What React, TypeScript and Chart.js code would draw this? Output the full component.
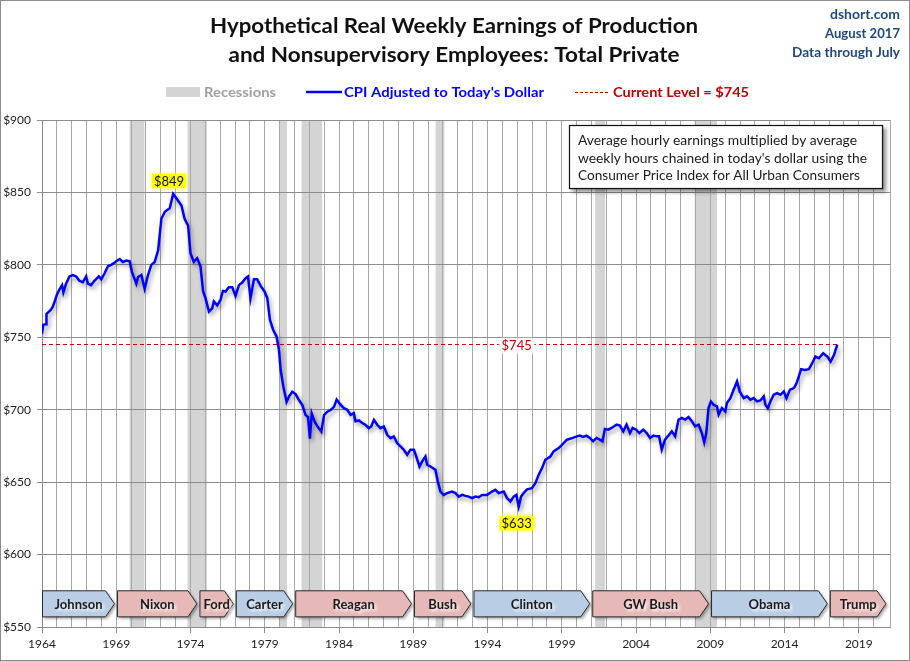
import React, { useEffect, useRef } from 'react';
import { Chart, registerables } from 'chart.js';
Chart.register(...registerables);

const years = [
  1964.00, 1964.09, 1964.27, 1964.30, 1964.50, 1964.60, 1964.72, 1964.83, 1964.99, 1965.17,
  1965.35, 1965.44, 1965.62, 1965.85, 1966.07, 1966.30, 1966.52, 1966.75, 1966.97, 1967.09,
  1967.30, 1967.53, 1967.83, 1967.99, 1968.21, 1968.44, 1968.66, 1968.82, 1969.00, 1969.23,
  1969.45, 1969.68, 1969.90, 1970.06, 1970.35, 1970.47, 1970.69, 1970.91, 1971.14, 1971.36,
  1971.59, 1971.82, 1972.04, 1972.27, 1972.60, 1972.83, 1973.05, 1973.39, 1973.60, 1973.84,
  1974.00, 1974.22, 1974.45, 1974.67, 1974.85, 1975.01, 1975.24, 1975.46, 1975.57, 1975.80,
  1976.02, 1976.18, 1976.36, 1976.58, 1976.81, 1977.03, 1977.26, 1977.48, 1977.71, 1977.87,
  1978.04, 1978.27, 1978.49, 1978.72, 1978.99, 1979.17, 1979.35, 1979.57, 1979.80, 1979.96,
  1980.07, 1980.25, 1980.47, 1980.63, 1980.85, 1981.08, 1981.30, 1981.53, 1981.75, 1981.91,
  1982.04, 1982.16, 1982.36, 1982.58, 1982.81, 1982.99, 1983.21, 1983.44, 1983.66, 1983.84,
  1984.10, 1984.33, 1984.55, 1984.78, 1985.00, 1985.11, 1985.34, 1985.56, 1985.78, 1986.00,
  1986.17, 1986.35, 1986.57, 1986.79, 1987.02, 1987.24, 1987.47, 1987.69, 1987.91, 1988.14,
  1988.36, 1988.59, 1988.81, 1989.04, 1989.20, 1989.42, 1989.60, 1989.82, 1989.93, 1990.16,
  1990.49, 1990.65, 1990.83, 1991.05, 1991.28, 1991.61, 1991.84, 1992.06, 1992.29, 1992.51,
  1992.74, 1992.96, 1993.18, 1993.41, 1993.63, 1993.97, 1994.30, 1994.53, 1994.75, 1995.09,
  1995.31, 1995.54, 1995.76, 1995.94, 1996.10, 1996.26, 1996.43, 1996.66, 1996.99, 1997.22,
  1997.44, 1997.67, 1997.89, 1998.23, 1998.45, 1998.79, 1999.01, 1999.35, 1999.69, 2000.02,
  2000.21, 2000.44, 2000.66, 2000.89, 2001.11, 2001.34, 2001.56, 2001.74, 2001.90, 2002.13,
  2002.35, 2002.69, 2002.91, 2003.14, 2003.36, 2003.59, 2003.77, 2004.00, 2004.22, 2004.49,
  2004.72, 2004.94, 2005.17, 2005.39, 2005.55, 2005.73, 2005.95, 2006.18, 2006.41, 2006.63,
  2006.86, 2007.08, 2007.31, 2007.53, 2007.76, 2007.98, 2008.21, 2008.43, 2008.59, 2008.73,
  2008.88, 2009.04, 2009.22, 2009.45, 2009.56, 2009.78, 2010.01, 2010.12, 2010.35, 2010.57,
  2010.80, 2010.98, 2011.25, 2011.47, 2011.70, 2011.92, 2012.15, 2012.37, 2012.60, 2012.71,
  2012.87, 2013.05, 2013.27, 2013.50, 2013.72, 2013.95, 2014.13, 2014.36, 2014.63, 2014.81,
  2014.96, 2015.12, 2015.35, 2015.64, 2015.86, 2016.08, 2016.31, 2016.60, 2016.88, 2017.10,
  2017.33, 2017.55,
];

const earnings = [
  752.4, 758.6, 759, 766, 768, 769, 771, 774, 779, 783,
  786, 781, 787, 792, 793, 792, 789, 788, 792, 787,
  786, 789, 792, 790, 794, 799, 800, 801, 802.5, 804,
  802, 803, 802.5, 795, 787, 791.6, 793, 783.5, 793, 800,
  802, 810, 832, 836.6, 839, 849, 846, 841, 832, 827,
  808, 802, 804.6, 799, 781.6, 777, 767.7, 770, 774.7, 772,
  775.8, 782, 781.6, 784.6, 784.6, 778.6, 786, 787.8, 790.8, 792,
  777, 790, 790, 785.5, 781.6, 777, 762, 755, 750.5, 741,
  727.4, 716, 705.5, 709, 712.4, 710.8, 706.7, 703.2, 696.3, 695,
  680, 697.5, 691.7, 688, 684.8, 696.3, 698.6, 699.8, 702, 707,
  703.5, 701, 700, 696.5, 697.7, 692, 692.6, 690.8, 689.6, 687.3,
  688.5, 693, 689.6, 687.3, 688.5, 682.7, 680.4, 681.6, 677, 674.7,
  672.4, 668.9, 672.4, 672.4, 667.7, 660.8, 664.3, 667.7, 662, 660.8,
  658.5, 650.5, 643.5, 641.2, 642.4, 643.5, 642.4, 640, 641.2, 640.5,
  640, 639, 640, 639.6, 641.2, 641.2, 643.5, 644.7, 642.4, 643.5,
  639, 636.6, 640, 641.2, 633.2, 640, 642.4, 645, 645.8, 649.3,
  655, 659.7, 665.4, 667.7, 671.2, 673.5, 675.8, 679.3, 680.4, 681.6,
  682.1, 681.2, 682.1, 680.5, 678.2, 680.5, 679.3, 678.2, 686.7, 686.2,
  687.4, 689.7, 689, 685.1, 689.7, 683.9, 687.4, 686.2, 683.9, 686.2,
  683.9, 680.5, 682.1, 681.6, 681.6, 672.5, 679.3, 682.1, 685.1, 681.6,
  693.1, 694.3, 693.1, 694.9, 692, 688.5, 689.7, 683.9, 677.5, 683.9,
  701.1, 705.7, 703.4, 702.3, 696.6, 701.1, 698.8, 704.6, 708, 713.8,
  719.5, 712.6, 708, 709.2, 706.9, 708, 705.7, 706.4, 709.2, 703.4,
  701.1, 705.7, 710.3, 711.5, 710.3, 712.6, 708, 713.8, 714.9, 718.3,
  723, 728, 727.5, 728, 732.1, 736.7, 735.5, 739, 736.7, 733.3,
  737.8, 745,
];

const recessionStarts = [1969.9, 1973.8, 1980.0, 1981.48, 1990.5, 2001.25, 2007.95];
const recessionEnds = [1970.9, 1975.1, 1980.5, 1982.87, 1991.1, 2001.92, 2009.45];

const presidents = ['Johnson', 'Nixon', 'Ford', 'Carter', 'Reagan', 'Bush', 'Clinton', 'GW Bush', 'Obama', 'Trump'];
const presidentStarts = [1964.0, 1969.05, 1974.6, 1977.05, 1981.05, 1989.05, 1993.05, 2001.05, 2009.05, 2017.05];
const presidentParty = ['D', 'R', 'R', 'D', 'R', 'R', 'D', 'R', 'D', 'R'];
const lastPresidentEnd = 2021.0;

const xMin = 1964;
const xMax = 2021.1;
const yMin = 550;
const yMax = 900;
const yStep = 50;

const FONT = 'Lato, "Open Sans", "DejaVu Sans", sans-serif';

function fitText(ctx: any, text: string, x: number, y: number, width: number, align: string) {
  const w = ctx.measureText(text).width;
  const s = w > 0 ? width / w : 1;
  const x0 = align === 'left' ? x : align === 'center' ? x - width / 2 : x - width;
  ctx.save();
  ctx.translate(x0, y);
  ctx.scale(s, 1);
  ctx.textAlign = 'left';
  ctx.fillText(text, 0, 0);
  ctx.restore();
}

function badge(ctx: any, text: string, cx: number, cy: number, bg: string, color: string) {
  ctx.save();
  ctx.font = `13px ${FONT}`;
  const w = ctx.measureText(text).width;
  ctx.shadowColor = bg;
  ctx.shadowBlur = 4;
  ctx.fillStyle = bg;
  ctx.fillRect(cx - w / 2 - 2, cy - 7, w + 4, 14);
  ctx.restore();
  ctx.save();
  ctx.font = `13px ${FONT}`;
  ctx.fillStyle = color;
  ctx.textAlign = 'center';
  ctx.textBaseline = 'middle';
  ctx.fillText(text, cx, cy + 0.5);
  ctx.restore();
}

export default function App() {
  const ref = useRef<HTMLCanvasElement>(null);

  useEffect(() => {
    document.body.style.margin = '0';
    const canvas = ref.current;
    if (!canvas) return;

    const peakIdx = earnings.indexOf(Math.max(...earnings));
    const lowIdx = earnings.indexOf(Math.min(...earnings));
    const current = earnings[earnings.length - 1];
    const lastYear = years[years.length - 1];

    const decor = {
      id: 'decor',
      beforeDraw(chart: any) {
        const { ctx, chartArea: a, scales } = chart;
        const x = scales.x;
        ctx.save();
        ctx.fillStyle = '#ffffff';
        ctx.fillRect(0, 0, chart.width, chart.height);
        ctx.fillStyle = '#d4d4d4';
        for (let i = 0; i < recessionStarts.length; i++) {
          const x0 = x.getPixelForValue(recessionStarts[i]);
          const x1 = x.getPixelForValue(recessionEnds[i]);
          ctx.fillRect(x0, a.top, x1 - x0, a.bottom - a.top);
        }
        ctx.restore();
      },
      beforeDatasetDraw(chart: any, args: any) {
        if (args.index === 0) {
          const ctx = chart.ctx;
          ctx.save();
          ctx.shadowColor = 'rgba(0,0,0,0.38)';
          ctx.shadowBlur = 4;
          ctx.shadowOffsetX = 2;
          ctx.shadowOffsetY = 3;
        }
      },
      afterDatasetDraw(chart: any, args: any) {
        if (args.index === 0) chart.ctx.restore();
      },
      afterDraw(chart: any) {
        const { ctx, scales } = chart;
        const x = scales.x;
        const y = scales.y;

        // outer border
        ctx.save();
        ctx.strokeStyle = '#8c8c8c';
        ctx.lineWidth = 1;
        ctx.strokeRect(0.5, 0.5, chart.width - 1, chart.height - 1);
        ctx.restore();

        // title
        ctx.save();
        ctx.fillStyle = '#111111';
        ctx.textBaseline = 'alphabetic';
        ctx.font = `bold 21px ${FONT}`;
        fitText(ctx, 'Hypothetical Real Weekly Earnings of Production', 454, 33, 488, 'center');
        fitText(ctx, 'and Nonsupervisory Employees: Total Private', 454, 62, 451, 'center');
        ctx.restore();

        // top right
        ctx.save();
        ctx.fillStyle = '#1f497d';
        ctx.textBaseline = 'alphabetic';
        ctx.font = `bold 13px ${FONT}`;
        fitText(ctx, 'dshort.com', 900, 19, 70, 'right');
        fitText(ctx, 'August 2017', 900, 38, 75, 'right');
        fitText(ctx, 'Data through July', 900, 57, 108, 'right');
        ctx.restore();

        // legend
        ctx.save();
        ctx.textBaseline = 'alphabetic';
        ctx.font = `bold 13px ${FONT}`;
        ctx.fillStyle = '#d4d4d4';
        ctx.fillRect(166, 87, 34, 10);
        ctx.fillStyle = '#a0a0a0';
        fitText(ctx, 'Recessions', 204, 97, 72, 'left');
        ctx.strokeStyle = '#0000ff';
        ctx.lineWidth = 2.5;
        ctx.beginPath();
        ctx.moveTo(306, 92);
        ctx.lineTo(342, 92);
        ctx.stroke();
        ctx.fillStyle = '#0000ff';
        fitText(ctx, "CPI Adjusted to Today's Dollar", 344, 97, 200, 'left');
        ctx.strokeStyle = '#c00000';
        ctx.lineWidth = 1;
        ctx.setLineDash([3, 2]);
        ctx.beginPath();
        ctx.moveTo(575, 92.5);
        ctx.lineTo(608, 92.5);
        ctx.stroke();
        ctx.setLineDash([]);
        ctx.fillStyle = '#c00000';
        fitText(ctx, `Current Level = $${Math.round(current)}`, 613, 97, 136, 'left');
        ctx.restore();

        // annotation box
        ctx.save();
        ctx.shadowColor = 'rgba(0,0,0,0.45)';
        ctx.shadowBlur = 4;
        ctx.shadowOffsetX = 3;
        ctx.shadowOffsetY = 3;
        ctx.fillStyle = '#ffffff';
        ctx.fillRect(569, 125, 314, 64);
        ctx.restore();
        ctx.save();
        ctx.strokeStyle = '#111111';
        ctx.lineWidth = 1.2;
        ctx.strokeRect(569.5, 125.5, 313, 63);
        ctx.fillStyle = '#1a1a1a';
        ctx.textBaseline = 'alphabetic';
        ctx.font = `14px ${FONT}`;
        fitText(ctx, 'Average hourly earnings multiplied by average', 578, 145, 279, 'left');
        fitText(ctx, "weekly hours chained in today's dollar using the", 578, 162.5, 289, 'left');
        fitText(ctx, 'Consumer Price Index for All Urban Consumers', 578, 180, 282, 'left');
        ctx.restore();

        // value labels
        badge(ctx, `$${Math.round(earnings[peakIdx])}`, x.getPixelForValue(years[peakIdx] - 0.28), y.getPixelForValue(earnings[peakIdx]) - 13, '#ffff00', '#111111');
        badge(ctx, `$${Math.round(current)}`, x.getPixelForValue(1995.96), y.getPixelForValue(current) + 1, '#ffffff', '#c00000');
        badge(ctx, `$${Math.round(earnings[lowIdx])}`, x.getPixelForValue(years[lowIdx] - 0.14), y.getPixelForValue(earnings[lowIdx]) + 17, '#ffff00', '#111111');

        // president arrows
        const yTop = y.getPixelForValue(575);
        const yBot = y.getPixelForValue(557);
        const mid = (yTop + yBot) / 2;
        for (let i = 0; i < presidents.length; i++) {
          const x0 = x.getPixelForValue(presidentStarts[i]) + 0.5;
          const endYear = i < presidents.length - 1 ? presidentStarts[i + 1] : lastPresidentEnd;
          const x1 = x.getPixelForValue(endYear) - 2.5;
          const tip = 9;
          ctx.save();
          ctx.beginPath();
          ctx.moveTo(x0, yTop);
          ctx.lineTo(x1 - tip, yTop);
          ctx.lineTo(x1, mid);
          ctx.lineTo(x1 - tip, yBot);
          ctx.lineTo(x0, yBot);
          ctx.closePath();
          ctx.shadowColor = 'rgba(0,0,0,0.35)';
          ctx.shadowBlur = 3;
          ctx.shadowOffsetX = 2;
          ctx.shadowOffsetY = 2;
          ctx.fillStyle = presidentParty[i] === 'D' ? '#b9cde5' : '#e6b9b8';
          ctx.fill();
          ctx.shadowColor = 'transparent';
          ctx.strokeStyle = '#2a2a2a';
          ctx.lineWidth = 1;
          ctx.stroke();
          ctx.font = `bold 13px ${FONT}`;
          ctx.textAlign = 'center';
          ctx.textBaseline = 'middle';
          ctx.shadowColor = 'rgba(255,255,255,0.95)';
          ctx.shadowBlur = 3;
          ctx.fillStyle = '#1a1a1a';
          ctx.fillText(presidents[i], (x0 + x1) / 2, mid + 1);
          ctx.restore();
        }
      },
    };

    const chart = new Chart(canvas, {
      type: 'line',
      data: {
        datasets: [
          {
            label: "CPI Adjusted to Today's Dollar",
            data: years.map((yr, i) => ({ x: yr, y: earnings[i] })),
            borderColor: '#0000ff',
            borderWidth: 2.5,
            pointRadius: 0,
            tension: 0,
            fill: false,
          },
          {
            label: 'Current Level',
            data: [
              { x: xMin, y: current },
              { x: lastYear, y: current },
            ],
            borderColor: '#c00000',
            borderWidth: 1,
            borderDash: [4, 3],
            pointRadius: 0,
            fill: false,
          },
        ],
      },
      options: {
        responsive: false,
        animation: false,
        devicePixelRatio: 1,
        layout: { padding: { top: 120, right: 20, left: 0, bottom: 0 } },
        plugins: {
          legend: { display: false },
          title: { display: false },
          tooltip: { enabled: false },
        },
        events: [],
        scales: {
          x: {
            type: 'linear',
            min: xMin,
            max: xMax,
            afterFit: (s: any) => {
              s.height = 34;
            },
            ticks: {
              stepSize: 1,
              autoSkip: false,
              maxRotation: 0,
              minRotation: 0,
              padding: 4,
              color: '#222222',
              font: { family: FONT, size: 12 },
              callback: (v: any) => (Number.isInteger(v) && (v - xMin) % 5 === 0 ? String(v) : ''),
            },
            grid: {
              color: '#a8a8a8',
              lineWidth: 1,
              tickLength: 6,
              tickColor: (c: any) =>
                c.tick && Number.isInteger(c.tick.value) && (c.tick.value - xMin) % 5 === 0 ? '#8c8c8c' : 'rgba(0,0,0,0)',
            },
            border: { color: '#8c8c8c' },
          },
          y: {
            min: yMin,
            max: yMax,
            afterFit: (s: any) => {
              s.width = 42;
            },
            ticks: {
              stepSize: yStep,
              padding: 6,
              color: '#222222',
              font: { family: FONT, size: 12 },
              callback: (v: any) => '$' + v,
            },
            grid: { color: '#8c8c8c', lineWidth: 1, tickLength: 5, tickColor: '#8c8c8c' },
            border: { color: '#8c8c8c' },
          },
        },
      },
      plugins: [decor],
    } as any);

    return () => {
      chart.destroy();
    };
  }, []);

  return (
    <div style={{ width: 910, height: 661 }}>
      <canvas ref={ref} width={910} height={661} style={{ display: 'block', width: 910, height: 661 }} />
    </div>
  );
}
